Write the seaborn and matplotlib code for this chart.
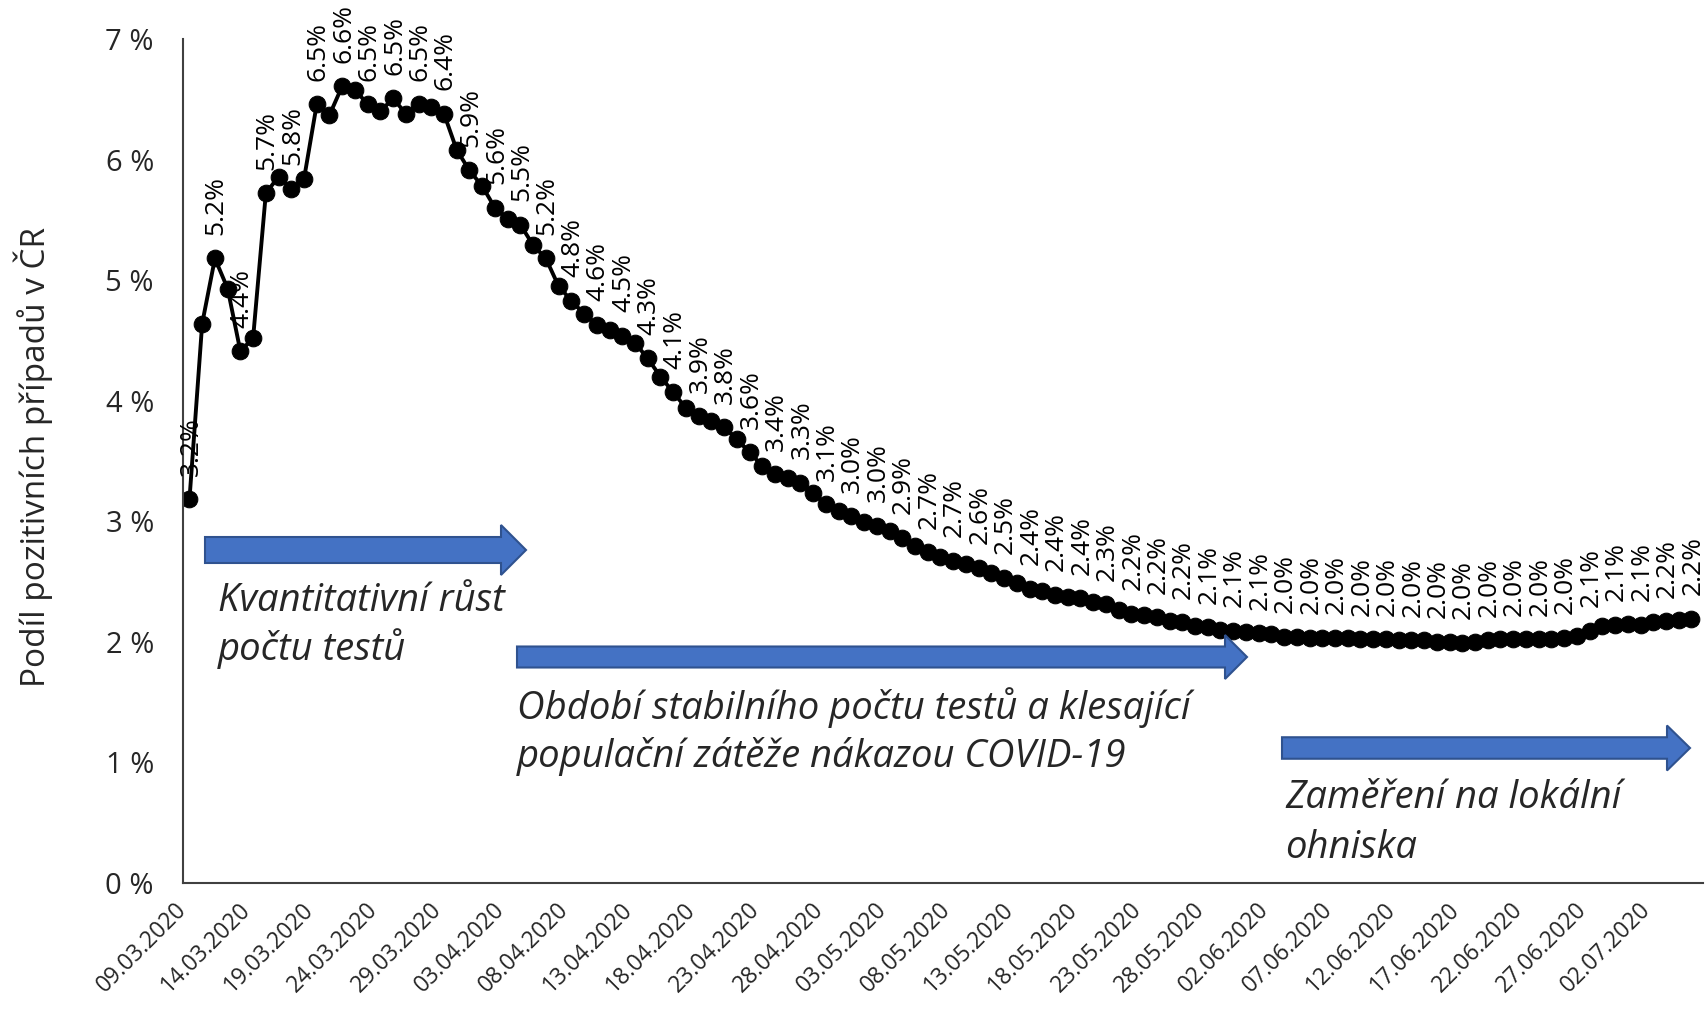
import numpy as np
import pandas as pd
import matplotlib
matplotlib.use("Agg")
import matplotlib.pyplot as plt
from matplotlib.patches import Polygon
import seaborn as sns

# Podíl pozitivních testů (%) – denní hodnoty od 09.03.2020
start_date = "2020-03-09"
positivity = [
    3.18, 4.64, 5.18, 4.93, 4.41, 4.52, 5.72, 5.86, 5.76, 5.84,
    6.46, 6.37, 6.61, 6.58, 6.46, 6.40, 6.51, 6.38, 6.46, 6.44,
    6.38, 6.08, 5.91, 5.78, 5.60, 5.51, 5.46, 5.29, 5.18, 4.95,
    4.83, 4.72, 4.63, 4.59, 4.54, 4.48, 4.35, 4.20, 4.07, 3.94,
    3.87, 3.83, 3.78, 3.68, 3.57, 3.46, 3.39, 3.36, 3.32, 3.23,
    3.14, 3.08, 3.04, 2.99, 2.96, 2.92, 2.86, 2.79, 2.74, 2.70,
    2.67, 2.64, 2.61, 2.57, 2.53, 2.49, 2.44, 2.42, 2.39, 2.37,
    2.36, 2.33, 2.31, 2.26, 2.23, 2.22, 2.20, 2.17, 2.16, 2.13,
    2.12, 2.10, 2.09, 2.08, 2.07, 2.06, 2.04, 2.04, 2.03, 2.03,
    2.03, 2.03, 2.02, 2.02, 2.02, 2.01, 2.01, 2.01, 2.00, 2.00,
    1.99, 2.00, 2.01, 2.02, 2.02, 2.02, 2.02, 2.02, 2.03, 2.05,
    2.09, 2.13, 2.14, 2.15, 2.14, 2.16, 2.17, 2.18, 2.19,
]
tick_labels = [
    "09.03.2020", "14.03.2020", "19.03.2020", "24.03.2020", "29.03.2020",
    "03.04.2020", "08.04.2020", "13.04.2020", "18.04.2020", "23.04.2020",
    "28.04.2020", "03.05.2020", "08.05.2020", "13.05.2020", "18.05.2020",
    "23.05.2020", "28.05.2020", "02.06.2020", "07.06.2020", "12.06.2020",
    "17.06.2020", "22.06.2020", "27.06.2020", "02.07.2020",
]
y_label = "Podíl pozitivních případů v ČR"
phase_texts = [
    ["Kvantitativní růst", "počtu testů"],
    ["Období stabilního počtu testů a klesající", "populační zátěže nákazou COVID-19"],
    ["Zaměření na lokální", "ohniska"],
]

df = pd.DataFrame({
    "date": pd.date_range(start_date, periods=len(positivity), freq="D"),
    "value": positivity,
})
df["day"] = (df["date"] - df["date"].iloc[0]).dt.days

sns.set_style("white")
plt.rcParams["font.family"] = ["Open Sans", "DejaVu Sans"]

W, H = 1708, 1009
fig = plt.figure(figsize=(W / 100, H / 100), dpi=100)
ax = fig.add_axes([0.1072, 0.1253, 0.8898, 0.8359])

sns.lineplot(data=df, x="day", y="value", ax=ax, color="black", linewidth=2.8,
             marker="o", markersize=12, markeredgecolor="black")

# data labels every second day
for _, row in df.iloc[::2].iterrows():
    ax.annotate(f"{row['value']:.1f}%", (row["day"], row["value"]),
                xytext=(1, 17), textcoords="offset points", rotation=90,
                ha="center", va="bottom", fontsize=19, color="black")

ax.set_xlim(-0.5, 118.9)
ax.set_ylim(0, 7)
ax.set_yticks(range(0, 8))
ax.set_yticklabels([f"{v} %" for v in range(0, 8)], fontsize=21)
ax.set_xticks(np.arange(0, 5 * len(tick_labels), 5) - 0.5)
ax.set_xticklabels(tick_labels, rotation=45, ha="right", va="center",
                   rotation_mode="anchor", fontsize=16.5)
ax.set_xlabel("")
ax.set_ylabel("")

for side in ["top", "right"]:
    ax.spines[side].set_visible(False)
for side in ["left", "bottom"]:
    ax.spines[side].set_color("#404040")
    ax.spines[side].set_linewidth(1.5)
ax.tick_params(axis="both", direction="out", length=7, width=1.5, color="#404040")
ax.tick_params(axis="y", pad=14)
ax.tick_params(axis="x", pad=10)

fig.text(33 / W, 1 - 457 / H, y_label, rotation=90, ha="center", va="center",
         fontsize=24)


def block_arrow(x0, x1, yc, shaft_h, head_h, head_len):
    pts = [
        (x0, yc - shaft_h / 2), (x1 - head_len, yc - shaft_h / 2),
        (x1 - head_len, yc - head_h / 2), (x1, yc),
        (x1 - head_len, yc + head_h / 2), (x1 - head_len, yc + shaft_h / 2),
        (x0, yc + shaft_h / 2),
    ]
    pts = [(x / W, 1 - y / H) for x, y in pts]
    fig.patches.append(Polygon(pts, closed=True, transform=fig.transFigure,
                               facecolor="#4472C4", edgecolor="#2F528F",
                               linewidth=1.5))


block_arrow(205, 526, 550, 26, 50, 25)
block_arrow(517, 1247, 657, 21, 44, 22)
block_arrow(1282, 1690, 748, 21.5, 45, 23)

# phase descriptions
text_pos = [(218, 611, 49), (517, 719, 48), (1285, 808, 50)]
for lines, (tx, ty, step) in zip(phase_texts, text_pos):
    for k, line in enumerate(lines):
        fig.text(tx / W, 1 - (ty + k * step) / H, line, fontsize=27.5,
                 style="italic", ha="left", va="baseline")

fig.savefig("out.png", dpi=100, facecolor="white")
